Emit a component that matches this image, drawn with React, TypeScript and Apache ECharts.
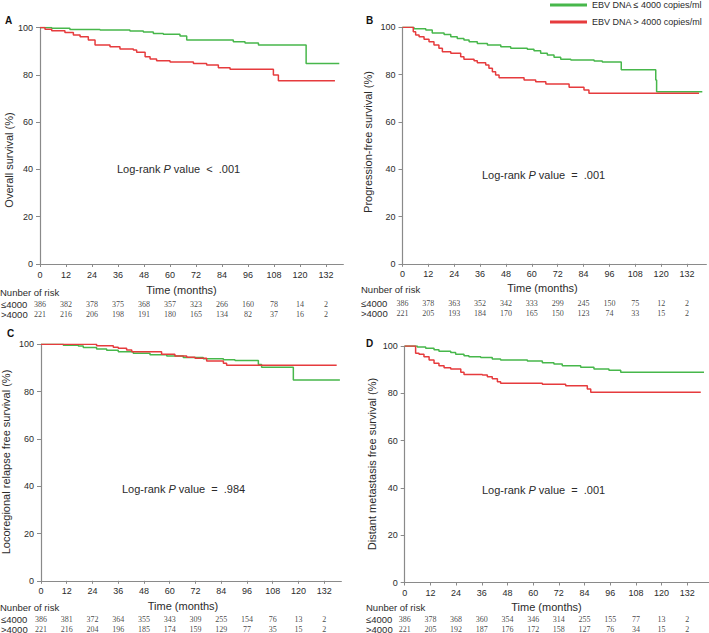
import React, { useEffect, useRef } from "react";
import * as echarts from "echarts";

const FONT = "'Liberation Sans', Arial, sans-serif";
const SERIF = "'Liberation Serif', 'Times New Roman', serif";
const GREEN = "#47b74b";
const RED = "#e63b3d";
const TEXT = "#2b2b2b";
const AXIS = "#8a8a8a";
const RISK_TEXT = "#111111";

const seriesNames = ["EBV DNA ≤ 4000 copies/ml", "EBV DNA > 4000 copies/ml"];
const xTicks = [0, 12, 24, 36, 48, 60, 72, 84, 96, 108, 120, 132];
const riskRows = ["≤4000", ">4000"];
const panelLetters = ["A", "B", "C", "D"];
const yTitles = [
  "Overall survival (%)",
  "Progression-free survival (%)",
  "Locoregional relapse free survival (%)",
  "Distant metastasis free survival (%)",
];
const pValues = ["<  .001", "=  .001", "=  .984", "=  .001"];

// Panel A: overall survival
const osLow = [[0,100],[5.4,99.7],[13.8,99.2],[27.7,98.9],[41.5,98.5],[47.7,98.1],[52.3,97.5],[56.9,97.1],[64.6,96.4],[67.7,94.7],[89.2,94.0],[94.6,93.4],[100.8,92.6],[122.8,84.8],[138.1,84.8]];
const osHigh = [[0,100],[2.3,99.3],[5.4,98.6],[11.5,97.9],[15.4,96.8],[18.5,96.1],[22.3,94.7],[25.4,92.6],[32.3,91.9],[36.9,90.9],[43.1,90.5],[44.6,89.5],[48.5,87.6],[50.8,86.7],[53.8,85.9],[60,85.4],[70.8,84.8],[76.9,84.1],[82.3,83.0],[87.7,82.3],[107.7,79.9],[110,77.5],[136.1,77.5]];
// Panel B: progression-free survival
const pfsLow = [[0,100],[5.3,99.4],[10.8,98.9],[13.8,97.6],[19.3,97.0],[22.4,96.0],[25.4,95.3],[28.5,94.6],[30.9,93.9],[34.7,93.2],[39.4,92.5],[45.6,91.8],[50.2,91.1],[57.9,90.7],[61.0,90.1],[64.1,89.0],[67.2,88.3],[70.3,87.3],[73.4,86.5],[78.1,86.2],[88.9,85.8],[92.7,85.3],[101.5,82.0],[117.5,77.7],[117.9,72.8],[139.1,72.8]];
const pfsHigh = [[0,100],[5.0,98.1],[6.1,96.7],[7.7,96.0],[10.0,94.9],[12.3,93.9],[14.6,92.5],[16.9,91.1],[18.5,89.7],[22.4,89.0],[27.0,87.6],[28.5,86.5],[33.2,85.9],[34.7,85.0],[38.6,84.1],[40.1,82.7],[41.7,81.2],[43.2,79.8],[44.8,78.7],[56.4,77.7],[61.8,77.0],[66.5,76.0],[77.3,74.6],[84.2,73.5],[86.5,72.1],[137.6,72.1]];
// Panel C: locoregional relapse free survival
const lrLow = [[0,100],[10.4,99.6],[17.4,99.3],[19.7,98.6],[25.9,98.0],[30.6,97.5],[36.0,96.9],[43.0,96.2],[50.8,95.6],[58.6,95.1],[66.3,94.4],[75.6,93.9],[85.0,93.5],[90.4,93.1],[101.3,91.5],[102.8,90.3],[117.6,84.9],[139.3,84.9]];
const lrHigh = [[0,100],[25.9,99.4],[33.7,98.7],[36.0,98.3],[39.9,97.6],[42.3,96.9],[56.2,95.8],[62.4,95.1],[67.9,94.5],[71.8,94.1],[77.2,92.9],[85.0,92.0],[86.5,91.1],[137.8,91.1]];
// Panel D: distant metastasis free survival
const dmLow = [[0,100],[5.9,99.6],[9.8,99.0],[13.7,98.4],[16.0,97.8],[21.5,97.3],[23.8,96.5],[27.7,95.9],[30.0,95.5],[35.5,95.1],[40.9,94.5],[44.8,94.1],[57.3,93.7],[64.3,92.9],[69.7,92.4],[73.6,91.7],[82.2,91.0],[88.4,90.3],[95.4,89.7],[100.9,88.9],[139.8,88.9]];
const dmHigh = [[0,100],[5.1,96.9],[6.7,96.5],[9.0,95.5],[11.4,94.1],[13.7,92.7],[16.0,91.7],[18.4,90.8],[21.5,90.3],[26.2,88.9],[27.7,88.0],[36.3,87.7],[38.6,87.0],[40.9,86.1],[43.3,84.9],[44.8,84.2],[64.3,83.8],[75.2,83.2],[85.3,81.8],[86.9,80.4],[138.3,80.4]];

// Numbers at risk
const riskOsLow = [386, 382, 378, 375, 368, 357, 323, 266, 160, 78, 14, 2];
const riskOsHigh = [221, 216, 206, 198, 191, 180, 165, 134, 82, 37, 16, 2];
const riskPfsLow = [386, 378, 363, 352, 342, 333, 299, 245, 150, 75, 12, 2];
const riskPfsHigh = [221, 205, 193, 184, 170, 165, 150, 123, 74, 33, 15, 2];
const riskLrLow = [386, 381, 372, 364, 355, 343, 309, 255, 154, 76, 13, 2];
const riskLrHigh = [221, 216, 204, 196, 185, 174, 159, 129, 77, 35, 15, 2];
const riskDmLow = [386, 378, 368, 360, 354, 346, 314, 255, 155, 77, 13, 2];
const riskDmHigh = [221, 205, 192, 187, 176, 172, 158, 127, 76, 34, 15, 2];

const curves = [
  [osLow, osHigh],
  [pfsLow, pfsHigh],
  [lrLow, lrHigh],
  [dmLow, dmHigh],
];
const risks = [
  [riskOsLow, riskOsHigh],
  [riskPfsLow, riskPfsHigh],
  [riskLrLow, riskLrHigh],
  [riskDmLow, riskDmHigh],
];

const PLOT_H = 236.5;
const layout = [
  { left: 40, top: 27.5, width: 303.4, max: 140, riskTop: 299, labelMargin: 39,
    letter: [5, 20], yName: [9, 160], xName: [181.5, 290], nob: [0, 292], lr: [117, 169] },
  { left: 402.5, top: 27.3, width: 303.9, max: 141, riskTop: 298, labelMargin: 41.5,
    letter: [366, 20], yName: [368, 142], xName: [542.5, 288], nob: [361, 289], lr: [482, 175] },
  { left: 41, top: 344.3, width: 300.4, max: 140, riskTop: 614, labelMargin: 40,
    letter: [7, 333], yName: [6, 462], xName: [183, 606], nob: [0, 607], lr: [122, 489] },
  { left: 404.7, top: 346, width: 304, max: 142, riskTop: 614, labelMargin: 38.7,
    letter: [366, 343], yName: [371.5, 464], xName: [546.5, 607], nob: [366, 607], lr: [482, 490] },
];

function buildOption() {
  const grid: any[] = [];
  const xAxis: any[] = [];
  const yAxis: any[] = [];
  const series: any[] = [];
  const graphic: any[] = [];

  layout.forEach((L, i) => {
    const gMain = i * 2;
    const gRisk = i * 2 + 1;
    grid.push({ left: L.left, top: L.top, width: L.width, height: PLOT_H, containLabel: false, outerBoundsMode: "none" });
    grid.push({ left: L.left, top: L.riskTop, width: L.width, height: 20, containLabel: false, outerBoundsMode: "none" });

    xAxis.push({
      type: "value", gridIndex: gMain, min: 0, max: L.max,
      axisLine: { show: true, lineStyle: { color: AXIS, width: 1 } },
      axisTick: { show: true, length: 3, customValues: xTicks, lineStyle: { color: AXIS } },
      axisLabel: { customValues: xTicks, margin: 6, fontSize: 9, color: TEXT, fontFamily: FONT },
      splitLine: { show: false },
    });
    xAxis.push({ type: "value", gridIndex: gRisk, min: 0, max: L.max, show: false });

    yAxis.push({
      type: "value", gridIndex: gMain, min: 0, max: 100, interval: 20,
      axisLine: { show: true, lineStyle: { color: AXIS, width: 1.2 } },
      axisTick: { show: true, length: 4, lineStyle: { color: AXIS } },
      axisLabel: { margin: 7, fontSize: 9, color: TEXT, fontFamily: FONT },
      splitLine: { show: false },
    });
    yAxis.push({
      type: "category", gridIndex: gRisk, data: riskRows, inverse: true,
      axisLine: { show: false }, axisTick: { show: false },
      axisLabel: { interval: 0, margin: L.labelMargin, align: "left", fontSize: 9.5, color: TEXT, fontFamily: FONT, hideOverlap: false },
      splitLine: { show: false },
    });

    curves[i].forEach((data, k) => {
      series.push({
        type: "line", name: seriesNames[k], xAxisIndex: gMain, yAxisIndex: gMain,
        data, step: "end", symbol: "none", silent: true, z: 2 + k,
        lineStyle: { color: k === 0 ? GREEN : RED, width: 1.5 },
        itemStyle: { color: k === 0 ? GREEN : RED },
      });
    });

    risks[i].forEach((vals, k) => {
      series.push({
        type: "scatter", xAxisIndex: gRisk, yAxisIndex: gRisk, silent: true,
        symbolSize: 0.01, color: RISK_TEXT, itemStyle: { color: RISK_TEXT },
        label: {
          show: true, position: "inside", formatter: (p: any) => String(p.value[2]),
          fontFamily: SERIF, fontSize: 8, color: RISK_TEXT,
          textBorderWidth: 0,
        },
        emphasis: { disabled: true },
        data: xTicks.map((t, j) => [t, k, vals[j]]),
      });
    });

    graphic.push({
      type: "text", x: L.letter[0], y: L.letter[1],
      style: { text: panelLetters[i], fontFamily: FONT, fontSize: 10, fontWeight: "bold", fill: "#111", align: "left", verticalAlign: "middle" },
    });
    graphic.push({
      type: "text", x: L.yName[0], y: L.yName[1], rotation: Math.PI / 2,
      style: { text: yTitles[i], fontFamily: FONT, fontSize: 11, fill: TEXT, align: "center", verticalAlign: "middle" },
    });
    graphic.push({
      type: "text", x: L.xName[0], y: L.xName[1],
      style: { text: "Time (months)", fontFamily: FONT, fontSize: 11, fill: TEXT, align: "center", verticalAlign: "middle" },
    });
    graphic.push({
      type: "text", x: L.nob[0], y: L.nob[1],
      style: { text: "Nunber of risk", fontFamily: FONT, fontSize: 9.5, fill: TEXT, align: "left", verticalAlign: "middle" },
    });
    graphic.push({
      type: "text", x: L.lr[0], y: L.lr[1],
      style: {
        text: "{a|Log-rank }{i|P}{a| value  " + pValues[i] + "}",
        fontFamily: FONT, fontSize: 11, fill: TEXT, align: "left", verticalAlign: "middle",
        rich: {
          a: { fontFamily: FONT, fontSize: 11, fill: TEXT },
          i: { fontFamily: FONT, fontSize: 11, fill: TEXT, fontStyle: "italic" },
        },
      },
    });
  });

  return {
    animation: false,
    backgroundColor: "#ffffff",
    legend: {
      data: seriesNames, orient: "vertical", left: 550, top: 0, padding: 0,
      itemWidth: 37, itemHeight: 3, itemGap: 7, icon: "rect", selectedMode: false,
      textStyle: { fontSize: 9, color: TEXT, fontFamily: FONT, lineHeight: 10 },
    },
    grid, xAxis, yAxis, series, graphic,
  };
}

export default function App() {
  const ref = useRef<HTMLDivElement>(null);
  useEffect(() => {
    if (!ref.current) return;
    const chart = echarts.init(ref.current, undefined, { renderer: "svg" });
    chart.setOption(buildOption() as any);
    return () => chart.dispose();
  }, []);
  return (
    <div
      ref={ref}
      style={{ position: "absolute", left: 0, top: 0, width: 709, height: 633, background: "#fff" }}
    />
  );
}
